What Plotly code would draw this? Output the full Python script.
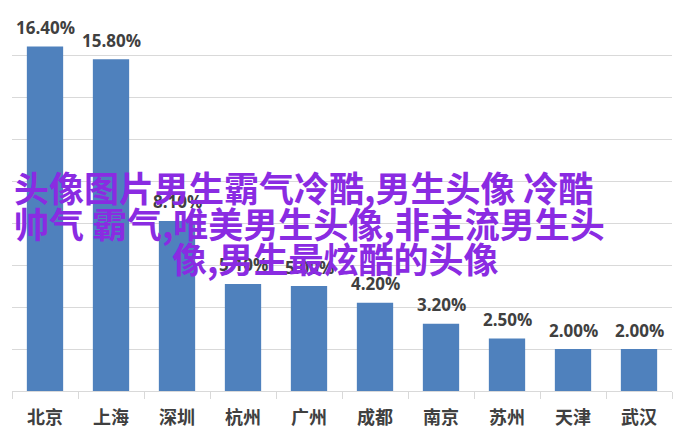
import plotly.graph_objects as go

cities = ["北京", "上海", "深圳", "杭州", "广州", "成都", "南京", "苏州", "天津", "武汉"]
shares = [16.40, 15.80, 8.10, 5.10, 5.00, 4.20, 3.20, 2.50, 2.00, 2.00]
labels = [f"{v:.2f}%" for v in shares]

watermark_lines = [
    "头像图片男生霸气冷酷,男生头像 冷酷",
    "帅气 霸气,唯美男生头像,非主流男生头",
    "像,男生最炫酷的头像",
]
wm_x = [0.0, 0.0, 0.239]
wm_y = [0.542, 0.447, 0.354]

fig = go.Figure()
fig.add_trace(go.Bar(
    x=cities, y=shares,
    marker=dict(color="#4F81BD", line=dict(width=0)),
    hoverinfo="skip",
))

annotations = []
for c, v, t in zip(cities, shares, labels):
    annotations.append(dict(
        x=c, y=v, xref="x", yref="y", text=t, showarrow=False,
        yanchor="middle", yshift=19,
        font=dict(family="Open Sans", size=17, color="#404040", weight="bold"),
    ))
for t, x, y in zip(watermark_lines, wm_x, wm_y):
    annotations.append(dict(
        x=x, y=y, xref="paper", yref="paper", text=t, showarrow=False,
        xanchor="left", yanchor="middle",
        font=dict(family="Noto Sans CJK SC", size=35, color="#8A2BE2", weight="bold"),
    ))

fig.update_layout(
    width=678, height=431,
    margin=dict(l=4, r=14, t=5, b=48),
    paper_bgcolor="white", plot_bgcolor="white",
    bargap=0.45,
    showlegend=False,
    annotations=annotations,
    xaxis=dict(
        showline=True, linecolor="#D9D9D9", linewidth=1,
        ticks="outside", tickson="boundaries", ticklen=7, tickcolor="#D9D9D9",
        ticklabelstandoff=10,
        tickfont=dict(family="Noto Sans CJK SC", size=18, color="#404040", weight="bold"),
        showgrid=False,
    ),
    yaxis=dict(
        range=[0, 18], dtick=2, showticklabels=False,
        showgrid=True, gridcolor="#D9D9D9", gridwidth=1,
        zeroline=False, showline=False,
    ),
)

fig.write_html("out.html")
